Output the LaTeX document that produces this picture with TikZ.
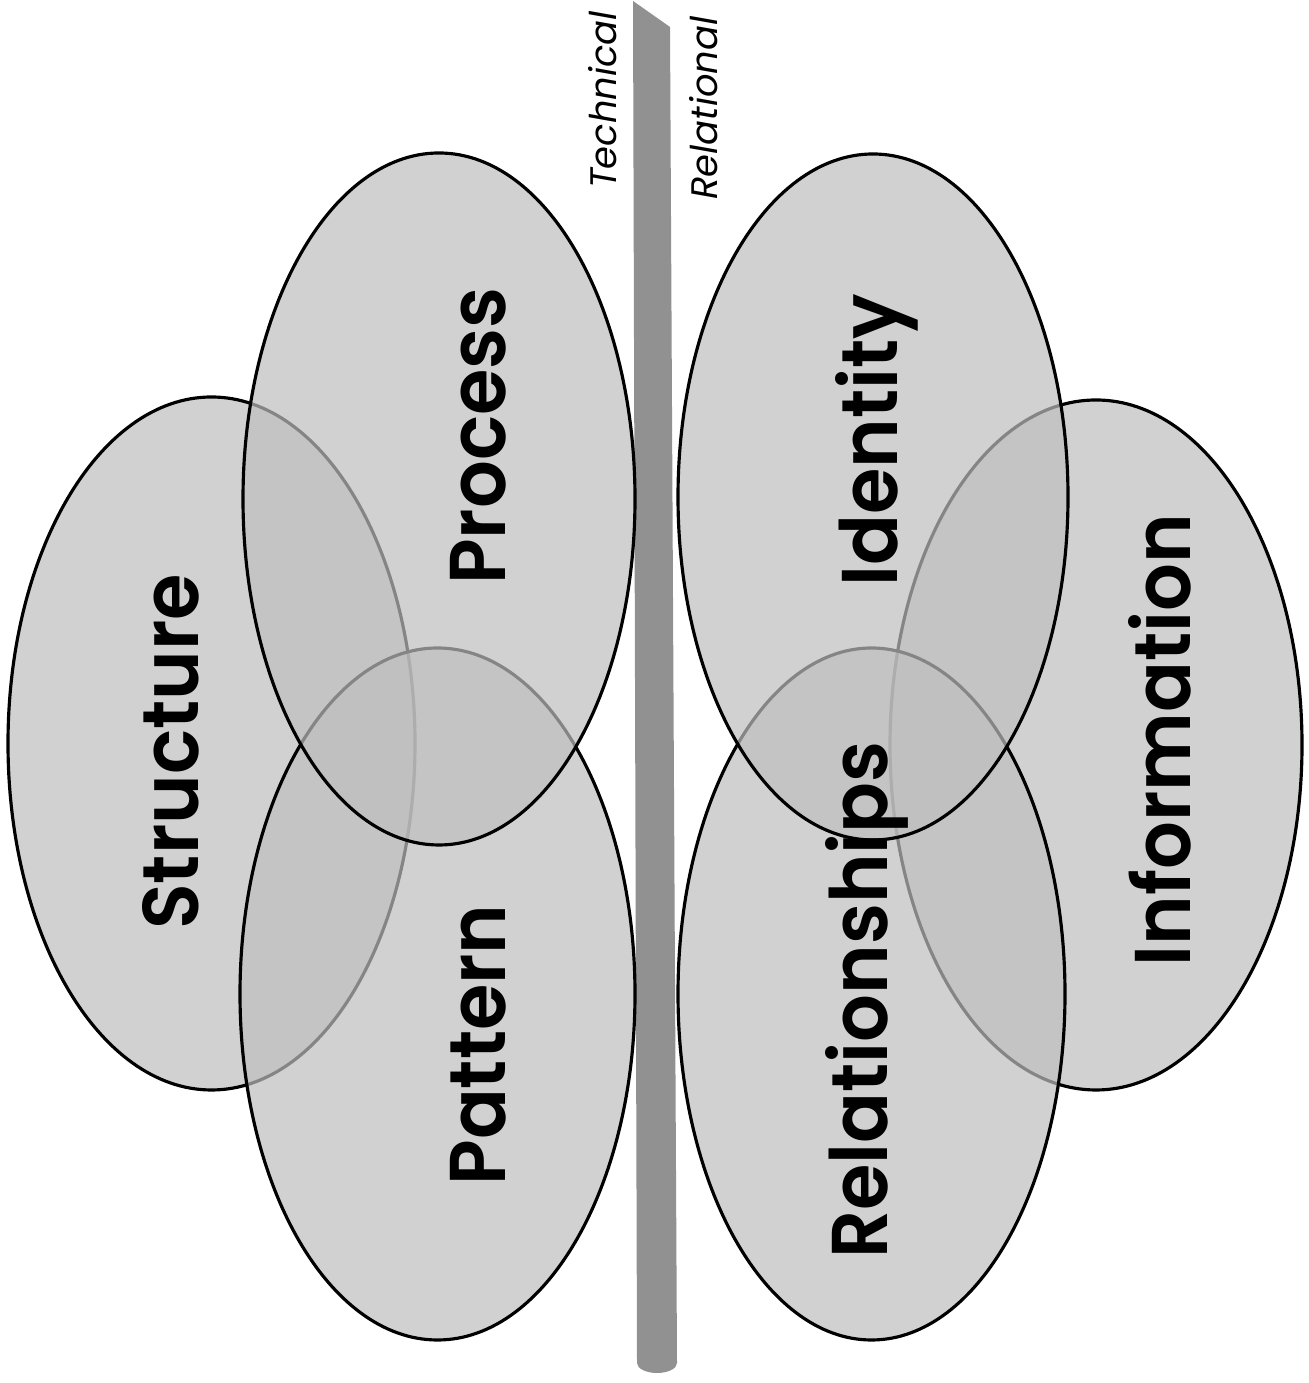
\documentclass[tikz,border=0pt]{standalone}
\usepackage{fontspec}
\setmainfont{Poppins}
\newfontfamily\petalfont{Poppins SemiBold}
\usetikzlibrary{shapes.geometric}
\definecolor{petalgray}{RGB}{190,190,190}
\definecolor{bargray}{RGB}{145,145,145}

\begin{document}
\begin{tikzpicture}[
    petal/.style={ellipse, draw=black, line width=0.9pt, fill=petalgray, fill opacity=0.7, inner sep=0pt},
    petal_label/.style={rotate=90, xscale=0.95, anchor=base, font=\fontsize{22.5}{26}\petalfont},
    side_label/.style={rotate=90, anchor=base, font=\fontsize{10.5}{12}\selectfont\itshape}
]
    \useasboundingbox (0,0) rectangle (13.09,13.83);

    % Divider bar
    \fill[bargray] (6.33,13.82) -- (6.70,13.56) -- (6.77,0.20)
        arc[start angle=0, end angle=-180, x radius=0.20, y radius=0.10]
        -- cycle;

    % Technical side (left)
    \node[petal, minimum width=4.07cm, minimum height=6.93cm] (structure) at (2.115,6.395) {};
    \node[petal, minimum width=3.95cm, minimum height=6.92cm] (pattern) at (4.375,3.89) {};
    \node[petal, minimum width=3.92cm, minimum height=6.92cm] (process) at (4.39,8.84) {};

    % Relational side (right)
    \node[petal, minimum width=4.12cm, minimum height=6.90cm] (information) at (10.96,6.38) {};
    \node[petal, minimum width=3.87cm, minimum height=6.92cm] (relationships) at (8.715,3.89) {};
    \node[petal, minimum width=3.90cm, minimum height=6.86cm] (identity) at (8.73,8.86) {};

    % Labels
    \node[petal_label] (structure_txt) at (1.98,6.31) {Structure};
    \node[petal_label] (process_txt) at (5.05,9.47) {Process};
    \node[petal_label] (pattern_txt) at (5.05,3.38) {Pattern};
    \node[petal_label] (identity_txt) at (8.97,9.43) {Identity};
    \node[petal_label] (information_txt) at (11.90,6.43) {Information};
    \node[petal_label] (relationships_txt) at (8.87,3.83) {Relationships};

    \node[side_label] (technical) at (6.16,12.83) {Technical};
    \node[side_label] (relational) at (7.17,12.75) {Relational};

\end{tikzpicture}
\end{document}
